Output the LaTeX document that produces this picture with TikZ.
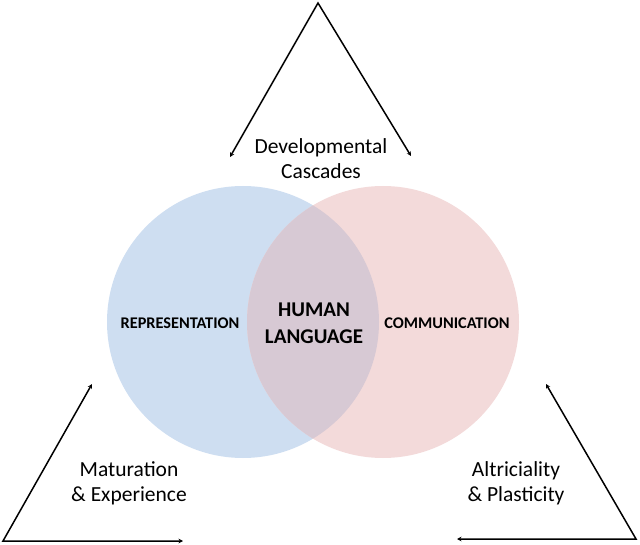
\documentclass[tikz,border=0pt]{standalone}
\usepackage{fontspec}
\setmainfont{Carlito}
\usetikzlibrary{arrows.meta}
\definecolor{repblue}{RGB}{206,222,241}
\definecolor{compink}{RGB}{243,218,218}
\definecolor{overlapc}{RGB}{215,201,212}
\tikzset{
  axis/.style={line width=1.5pt, {Stealth[length=4.5pt,width=4.5pt]}-{Stealth[length=4.5pt,width=4.5pt]}},
  factor/.style={font=\fontsize{21.5}{25}\selectfont, align=center, inner sep=0pt},
  side/.style={font=\bfseries\fontsize{16.3}{19}\selectfont, inner sep=0pt},
  core/.style={font=\bfseries\fontsize{21}{27}\selectfont, align=center, inner sep=0pt}
}
\begin{document}
\begin{tikzpicture}[x=1pt,y=-1pt]
\useasboundingbox (0,0) rectangle (640,545);
% Venn circles
\fill[repblue] (243,322) circle (136);
\fill[compink] (383,322) circle (136);
\begin{scope}
  \clip (243,322) circle (136);
  \fill[overlapc] (383,322) circle (136);
\end{scope}
% labels
\node[side] (rep) at (180,323) {REPRESENTATION};
\node[side] (com) at (447,323) {COMMUNICATION};
\node[core] (hl) at (314,323) {HUMAN\\LANGUAGE};
% factor labels
\node[factor] (dc) at (321,159) {Developmental\\Cascades};
\node[factor] (me) at (129,483) {Maturation\\\&~Experience};
\node[factor] (ap) at (516,483) {Altriciality\\\&~Plasticity};
% triangle corners
\coordinate (tA) at (318,3);
\coordinate (tL) at (230,157);
\coordinate (tR) at (411,156);
\coordinate (lT) at (92,384);
\coordinate (lC) at (3,541);
\coordinate (lR) at (183,541);
\coordinate (rT) at (546,384);
\coordinate (rC) at (636,539);
\coordinate (rL) at (457,539);
\draw[axis, line join=miter] (tL) -- (tA) -- (tR);
\draw[axis, line join=miter] (lT) -- (lC) -- (lR);
\draw[axis, line join=miter] (rT) -- (rC) -- (rL);
\end{tikzpicture}
\end{document}
